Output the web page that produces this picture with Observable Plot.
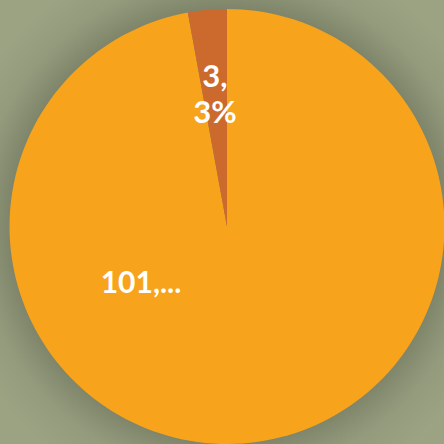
<!DOCTYPE html>
<html>
<head>
<meta charset="utf-8">
<script src="https://cdn.jsdelivr.net/npm/d3@7"></script>
<script src="https://cdn.jsdelivr.net/npm/@observablehq/plot@0.6"></script>
<style>
  html, body { margin: 0; padding: 0; background: #9ca383; }
  svg { display: block; }
</style>
</head>
<body>
<div id="chart"></div>
<script>
// Data
const categories = ["Major", "Minor"];
const values = [101, 3];
const labels = ["101,...", "3,\n3%"];
const colors = ["#F8A31C", "#CC6A2E"];

const data = categories.map((c, i) => ({category: c, value: values[i], label: labels[i]}));
const arcs = d3.pie().sort(null).value(d => d.value)(data);
const deg = r => r * 180 / Math.PI;

// Build each slice as a spherical lune (pole -> equator) rendered in a polar azimuthal projection
const features = arcs.map(a => {
  const a0 = deg(a.startAngle), a1 = deg(a.endAngle);
  const n = Math.max(2, Math.ceil((a1 - a0) / 2));
  const ring = [[0, 90]];
  for (let k = 0; k <= n; ++k) {
    const t = a0 + (a1 - a0) * k / n;
    ring.push([180 - t, 0]);
  }
  ring.push([0, 90]);
  let f = {type: "Feature", properties: a.data, geometry: {type: "Polygon", coordinates: [ring]}};
  if (d3.geoArea(f) > 2 * Math.PI) {
    f = {type: "Feature", properties: a.data, geometry: {type: "Polygon", coordinates: [ring.slice().reverse()]}};
  }
  return f;
});

const domain = d3.geoCircle().center([0, 90]).radius(90).precision(1)();

const small = arcs[1];
const smallMid = deg((small.startAngle + small.endAngle) / 2);

const chart = Plot.plot({
  width: 444,
  height: 444,
  marginLeft: 9,
  marginTop: 8,
  marginRight: 0,
  marginBottom: 0,
  style: {
    background: "radial-gradient(circle at 227px 226px, #7c8368 0px, #7c8368 214px, #949b7d 250px, #9ca383 285px, #9ca383 100%)",
    fontFamily: "Lato, 'DejaVu Sans', sans-serif"
  },
  projection: {type: "azimuthal-equidistant", rotate: [0, -90], domain},
  color: {domain: categories, range: colors},
  marks: [
    Plot.geo(features, {fill: d => d.properties.category}),
    Plot.text([small.data], {
      x: () => 180 - smallMid,
      y: () => 90 - 90 * 0.615,
      text: d => d.label,
      fill: "white",
      fontSize: 31,
      fontWeight: "bold",
      lineHeight: 1.16
    }),
    Plot.text([arcs[0].data], {
      frameAnchor: "middle",
      dx: -86,
      dy: 57,
      text: d => d.label,
      fill: "white",
      fontSize: 30,
      fontWeight: "bold",
      letterSpacing: 2
    })
  ]
});
document.getElementById("chart").appendChild(chart);
</script>
</body>
</html>
